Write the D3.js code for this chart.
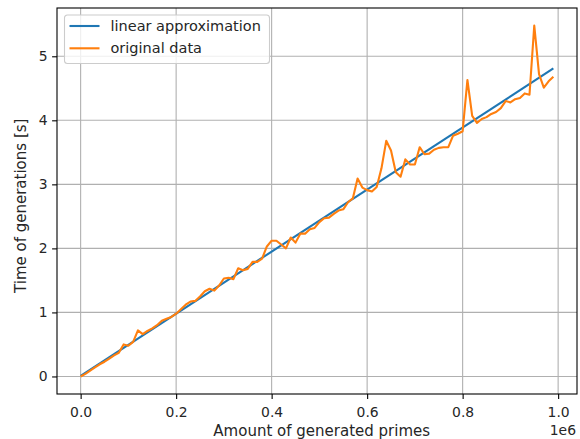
<!DOCTYPE html>
<html lang="en">
<head>
<meta charset="UTF-8">
<title>Prime generation time</title>
<script src="https://d3js.org/d3.v7.min.js"></script>
<style>
    body { margin: 0; background: #fff; }
    svg { display: block; font-family: "DejaVu Sans", sans-serif; }
</style>
</head>
<body>
<div id="chart"></div>
<script>
    // amount of generated primes, one sample every 10 000
    const primeCounts = d3.range(100).map(i => i * 10000);

    // measured time of generation [s]
    const genTimes = [
        0.00, 0.04, 0.09, 0.14, 0.19, 0.23, 0.28, 0.33, 0.37, 0.50,
        0.48, 0.54, 0.72, 0.66, 0.71, 0.75, 0.80, 0.87, 0.90, 0.93,
        0.98, 1.05, 1.12, 1.17, 1.18, 1.25, 1.33, 1.37, 1.34, 1.42,
        1.53, 1.54, 1.52, 1.69, 1.66, 1.68, 1.79, 1.79, 1.84, 2.03,
        2.12, 2.12, 2.06, 2.00, 2.17, 2.09, 2.23, 2.23, 2.30, 2.32,
        2.41, 2.47, 2.48, 2.54, 2.59, 2.61, 2.72, 2.78, 3.09, 2.95,
        2.91, 2.89, 2.96, 3.25, 3.68, 3.53, 3.19, 3.12, 3.39, 3.31,
        3.31, 3.58, 3.47, 3.48, 3.54, 3.57, 3.58, 3.58, 3.76, 3.79,
        3.83, 4.63, 4.07, 3.96, 4.02, 4.05, 4.10, 4.13, 4.19, 4.30,
        4.28, 4.33, 4.35, 4.42, 4.40, 5.48, 4.72, 4.51, 4.61, 4.68
    ];

    // linear approximation, end points
    const approxX = [0, 990000];
    const approxY = [0.01, 4.81];

    const xTicks = [0, 200000, 400000, 600000, 800000, 1000000];
    const xTickLabels = ["0.0", "0.2", "0.4", "0.6", "0.8", "1.0"];
    const yTicks = [0, 1, 2, 3, 4, 5];

    const seriesNames = ["linear approximation", "original data"];
    const seriesColors = ["#1f77b4", "#ff7f0e"];

    const W = 580, H = 439;
    const margin = { top: 8, right: 3, bottom: 45, left: 57 };
    const width = W - margin.left - margin.right,
        height = H - margin.top - margin.bottom;

    const svg = d3.select("#chart").append("svg")
        .attr("width", W)
        .attr("height", H);

    const g = svg.append("g")
        .attr("transform", `translate(${margin.left},${margin.top})`);

    // matplotlib style 5% margins
    function padded(ext) {
        const p = (ext[1] - ext[0]) * 0.05;
        return [ext[0] - p, ext[1] + p];
    }

    const x = d3.scaleLinear()
        .domain(padded(d3.extent(primeCounts.concat(approxX))))
        .range([0, width]);

    const y = d3.scaleLinear()
        .domain(padded(d3.extent(genTimes.concat(approxY))))
        .range([height, 0]);

    // grid
    g.append("g")
        .selectAll("line")
        .data(xTicks)
        .join("line")
        .attr("x1", d => x(d)).attr("x2", d => x(d))
        .attr("y1", 0).attr("y2", height)
        .attr("stroke", "#b0b0b0")
        .attr("stroke-width", 1.1);

    g.append("g")
        .selectAll("line")
        .data(yTicks)
        .join("line")
        .attr("y1", d => y(d)).attr("y2", d => y(d))
        .attr("x1", 0).attr("x2", width)
        .attr("stroke", "#b0b0b0")
        .attr("stroke-width", 1.1);

    // lines
    const line = d3.line()
        .x(d => x(d[0]))
        .y(d => y(d[1]));

    g.append("path")
        .datum(d3.zip(approxX, approxY))
        .attr("fill", "none")
        .attr("stroke", seriesColors[0])
        .attr("stroke-width", 2.1)
        .attr("d", line);

    g.append("path")
        .datum(d3.zip(primeCounts, genTimes))
        .attr("fill", "none")
        .attr("stroke", seriesColors[1])
        .attr("stroke-width", 2.1)
        .attr("stroke-linejoin", "round")
        .attr("d", line);

    // axes
    const xAxis = g.append("g")
        .attr("transform", `translate(0,${height})`)
        .call(d3.axisBottom(x)
            .tickValues(xTicks)
            .tickFormat((d, i) => xTickLabels[i])
            .tickSizeInner(4.9)
            .tickSizeOuter(0)
            .tickPadding(8));

    const yAxis = g.append("g")
        .call(d3.axisLeft(y)
            .tickValues(yTicks)
            .tickFormat(d3.format("d"))
            .tickSizeInner(4.9)
            .tickSizeOuter(0)
            .tickPadding(4.5));

    [xAxis, yAxis].forEach(a => {
        a.select(".domain").remove();
        a.selectAll(".tick line").attr("stroke", "#000").attr("stroke-width", 1.1);
        a.selectAll(".tick text")
            .attr("font-size", 13.9)
            .attr("font-family", "DejaVu Sans")
            .attr("fill", "#262626");
    });

    // frame
    g.append("rect")
        .attr("width", width)
        .attr("height", height)
        .attr("fill", "none")
        .attr("stroke", "#000")
        .attr("stroke-width", 1.1);

    // offset text
    g.append("text")
        .attr("x", width - 1)
        .attr("y", height + 41)
        .attr("text-anchor", "end")
        .attr("font-size", 13.9)
        .attr("fill", "#262626")
        .text("1e6");

    // axis labels
    g.append("text")
        .attr("x", width / 2 + 4.7)
        .attr("y", height + 42)
        .attr("text-anchor", "middle")
        .attr("font-size", 15)
        .attr("fill", "#262626")
        .text("Amount of generated primes");

    g.append("text")
        .attr("transform", `translate(${-31},${height / 2 + 4.8}) rotate(-90)`)
        .attr("text-anchor", "middle")
        .attr("font-size", 15)
        .attr("fill", "#262626")
        .text("Time of generations [s]");

    // legend
    const legend = g.append("g")
        .attr("transform", "translate(7.5,7)");

    legend.append("rect")
        .attr("width", 205)
        .attr("height", 48.5)
        .attr("rx", 3)
        .attr("fill", "#fff")
        .attr("fill-opacity", 0.8)
        .attr("stroke", "#cccccc")
        .attr("stroke-width", 1.1);

    seriesNames.forEach((name, i) => {
        const row = legend.append("g")
            .attr("transform", `translate(0,${11 + i * 22.3})`);
        row.append("line")
            .attr("x1", 5).attr("x2", 35)
            .attr("stroke", seriesColors[i])
            .attr("stroke-width", 2.1);
        row.append("text")
            .attr("x", 46)
            .attr("dy", "0.35em")
            .attr("font-size", 14.5)
            .attr("fill", "#262626")
            .text(name);
    });
</script>
</body>
</html>
